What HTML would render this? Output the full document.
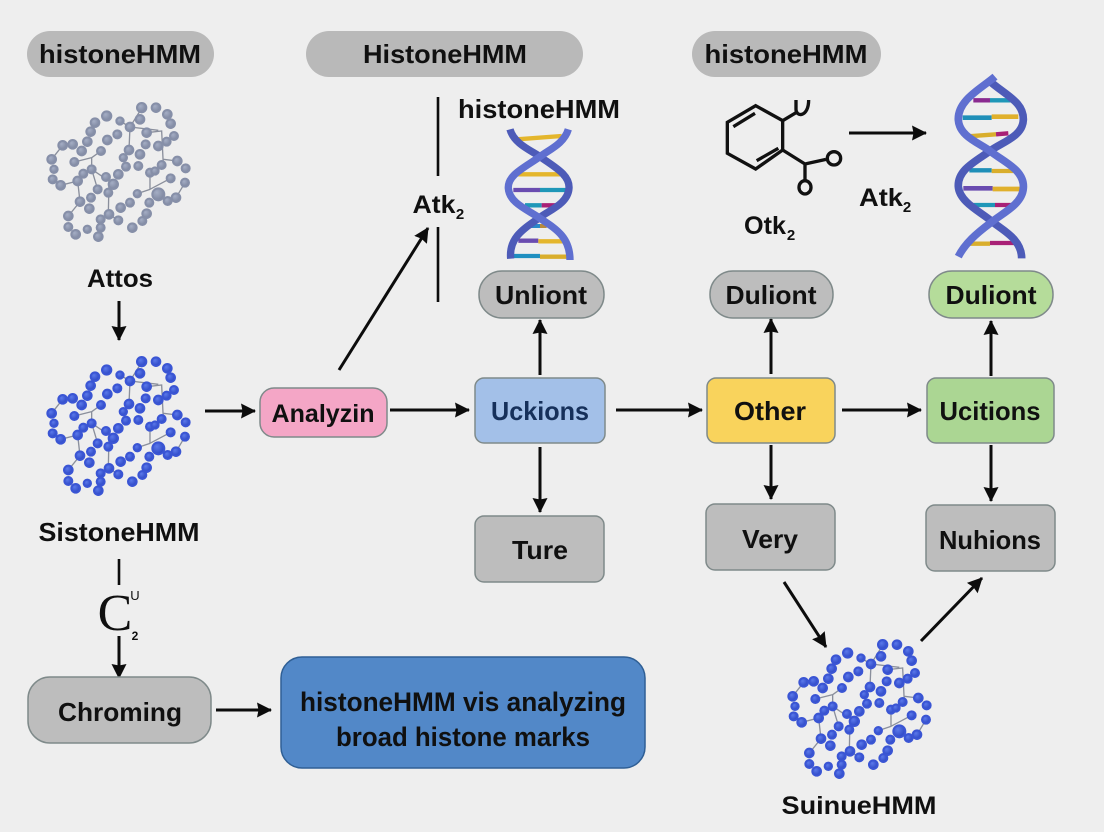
<!DOCTYPE html>
<html><head><meta charset="utf-8"><style>
html,body{margin:0;padding:0;background:#eeeeee}
svg{display:block}
text{font-family:"Liberation Sans",sans-serif;font-weight:700;fill:#101010;text-anchor:middle}
.n{stroke:#7f8a8a;stroke-width:1.5}
.a{stroke:#0c0c0c;stroke-width:3;fill:none}
</style></head><body>
<svg xmlns="http://www.w3.org/2000/svg" width="1104" height="832" viewBox="0 0 1104 832">
<defs>
<radialGradient id="bb" cx=".38" cy=".35" r=".7"><stop offset="0" stop-color="#5a78ea"/><stop offset="1" stop-color="#2a44c2"/></radialGradient>
<radialGradient id="gb" cx=".38" cy=".35" r=".7"><stop offset="0" stop-color="#a4adc4"/><stop offset="1" stop-color="#7c859e"/></radialGradient>
<marker id="h" markerUnits="userSpaceOnUse" markerWidth="18" markerHeight="18" refX="14" refY="8" orient="auto"><path d="M0 0.5L15 8L0 15.5L1.5 8Z" fill="#0c0c0c"/></marker>
<g id="ml" fill="none" stroke="#8a8f9c" stroke-width="4">
<path d="M300 108L385 118M300 108L297 177M350 125L395 120L400 222M400 205L442 210M185 200L133 213M185 200L185 235L203 295M185 200L213 180M185 235L237 270L235 370M143 270L92 283M143 270L150 332L115 375M237 370L265 388M360 245L360 295L422 262M360 295L322 308M465 275L438 320M270 90L300 108M330 60L300 108M98 163L65 205"/>
</g>
<g id="mb">
<g id="beads">
<circle cx="335" cy="50" r="14"/><circle cx="378" cy="50" r="13"/><circle cx="412" cy="70" r="13"/><circle cx="422" cy="98" r="13"/><circle cx="432" cy="135" r="12"/><circle cx="410" cy="152" r="12"/><circle cx="385" cy="165" r="13"/><circle cx="330" cy="85" r="13"/>
<circle cx="230" cy="75" r="14"/><circle cx="195" cy="95" r="13"/><circle cx="182" cy="122" r="13"/><circle cx="172" cy="152" r="13"/><circle cx="155" cy="180" r="13"/><circle cx="128" cy="160" r="13"/><circle cx="98" cy="163" r="13"/><circle cx="65" cy="205" r="13"/><circle cx="72" cy="235" r="11"/><circle cx="68" cy="265" r="12"/><circle cx="92" cy="283" r="13"/><circle cx="143" cy="270" r="13"/><circle cx="160" cy="248" r="12"/><circle cx="185" cy="235" r="12"/>
<circle cx="270" cy="90" r="11"/><circle cx="300" cy="108" r="13"/><circle cx="350" cy="125" r="13"/><circle cx="347" cy="160" r="12"/><circle cx="297" cy="177" r="13"/><circle cx="330" cy="190" r="13"/><circle cx="280" cy="200" r="11"/><circle cx="288" cy="227" r="12"/><circle cx="325" cy="225" r="12"/><circle cx="360" cy="245" r="12"/><circle cx="375" cy="240" r="11"/><circle cx="395" cy="222" r="12"/><circle cx="442" cy="210" r="13"/><circle cx="467" cy="232" r="12"/><circle cx="465" cy="275" r="12"/><circle cx="438" cy="320" r="13"/><circle cx="413" cy="330" r="12"/><circle cx="385" cy="310" r="18"/><circle cx="358" cy="335" r="12"/><circle cx="350" cy="368" r="13"/><circle cx="337" cy="390" r="12"/><circle cx="307" cy="410" r="13"/><circle cx="265" cy="388" r="12"/><circle cx="272" cy="350" r="13"/><circle cx="300" cy="335" r="12"/><circle cx="322" cy="308" r="11"/><circle cx="422" cy="262" r="12"/>
<circle cx="262" cy="130" r="12"/><circle cx="232" cy="147" r="13"/><circle cx="213" cy="180" r="12"/><circle cx="133" cy="213" r="12"/><circle cx="265" cy="250" r="13"/><circle cx="250" cy="280" r="14"/><circle cx="235" cy="305" r="12"/><circle cx="228" cy="258" r="12"/><circle cx="203" cy="295" r="12"/><circle cx="183" cy="320" r="12"/><circle cx="178" cy="353" r="13"/><circle cx="150" cy="332" r="13"/><circle cx="115" cy="375" r="13"/><circle cx="115" cy="408" r="12"/><circle cx="137" cy="430" r="13"/><circle cx="172" cy="415" r="11"/><circle cx="205" cy="437" r="13"/><circle cx="212" cy="410" r="12"/><circle cx="212" cy="385" r="12"/><circle cx="237" cy="370" r="13"/>
</g></g>
</defs>
<rect width="1104" height="832" fill="#eeeeee"/>

<!-- top pills -->
<rect x="27" y="31" width="187" height="46" rx="23" fill="#b9b9b9"/>
<rect x="306" y="31" width="277" height="46" rx="23" fill="#b9b9b9"/>
<rect x="692" y="31" width="189" height="46" rx="23" fill="#b9b9b9"/>
<text x="120" y="63" font-size="26" textLength="162" lengthAdjust="spacingAndGlyphs">histoneHMM</text>
<text x="445" y="63" font-size="26" textLength="164" lengthAdjust="spacingAndGlyphs">HistoneHMM</text>
<text x="786" y="63" font-size="26" textLength="163" lengthAdjust="spacingAndGlyphs">histoneHMM</text>
<text x="539" y="118" font-size="26" textLength="162" lengthAdjust="spacingAndGlyphs">histoneHMM</text>

<!-- molecules -->
<g transform="translate(30,91) scale(.3333)"><use href="#ml"/><use href="#mb" fill="url(#gb)" stroke="#868fa8" stroke-width="6"/></g>
<g transform="translate(30,345) scale(.3333)"><use href="#ml"/><use href="#mb" fill="url(#bb)" stroke="#3a55d4" stroke-width="6"/></g>
<g transform="translate(771,628) scale(.3333)"><use href="#ml"/><use href="#mb" fill="url(#bb)" stroke="#3a55d4" stroke-width="6"/></g>

<!-- DNA 1 -->
<g transform="translate(490,120) scale(.3333)" fill="none" stroke-linecap="butt">
<path d="M82 58L215 48" stroke="#e4b62c" stroke-width="13"/>
<path d="M80 163H210" stroke="#e4b62c" stroke-width="13"/>
<path d="M70 210H150" stroke="#6a4cb0" stroke-width="13"/><path d="M150 210H235" stroke="#1f97b8" stroke-width="13"/>
<path d="M105 256H155" stroke="#1f97b8" stroke-width="13"/><path d="M155 256H215" stroke="#a82076" stroke-width="13"/>
<path d="M110 318H150" stroke="#2a88c8" stroke-width="12"/><path d="M150 318H170" stroke="#b88a3c" stroke-width="12"/>
<path d="M85 362H145" stroke="#6a4cb0" stroke-width="13"/><path d="M145 364H220" stroke="#e4b62c" stroke-width="13"/>
<path d="M70 408H150" stroke="#1f8fc0" stroke-width="13"/><path d="M150 410H232" stroke="#d9ae2c" stroke-width="13"/>
<path d="M60 28C72 72 125 92 150 110C195 142 240 165 237 205C234 250 180 270 150 292C105 325 56 350 62 416" stroke="#4d5bb8" stroke-width="22"/>
<path d="M235 28C222 72 175 90 150 110C105 142 52 165 55 205C58 250 115 270 150 295C195 325 240 350 240 420" stroke="#5f6fd0" stroke-width="22"/>
</g>

<!-- DNA 2 -->
<g transform="translate(940,65) scale(.3333)" fill="none">
<path d="M100 106H150" stroke="#8a2a90" stroke-width="13"/><path d="M150 106H215" stroke="#1f97b8" stroke-width="13"/>
<path d="M68 158H155" stroke="#1f8fb8" stroke-width="14"/><path d="M155 155H235" stroke="#e0b02c" stroke-width="14"/>
<path d="M85 214L168 208" stroke="#d9ae2c" stroke-width="13"/><path d="M168 208L205 205" stroke="#a82076" stroke-width="13"/>
<path d="M88 316H155" stroke="#1f8fb8" stroke-width="13"/><path d="M155 318H220" stroke="#d9ae2c" stroke-width="13"/>
<path d="M70 370H158" stroke="#6a4cb0" stroke-width="14"/><path d="M158 372H240" stroke="#e0b02c" stroke-width="14"/>
<path d="M100 420H165" stroke="#1f97b8" stroke-width="13"/><path d="M165 420H230" stroke="#a82076" stroke-width="13"/>
<path d="M88 536H150" stroke="#d9ae2c" stroke-width="13"/><path d="M150 534H228" stroke="#a82076" stroke-width="13"/>
<path d="M145 45C195 90 252 110 250 165C248 215 185 232 150 258C105 290 52 315 55 365C58 410 120 440 150 465C185 495 245 520 245 580" stroke="#4d5bb8" stroke-width="23"/>
<path d="M165 35C125 70 52 105 55 165C58 215 120 235 150 258C190 290 255 315 250 370C246 420 185 445 150 475C110 505 75 535 55 575" stroke="#5f6fd0" stroke-width="23"/>
</g>

<!-- chem ring -->
<g transform="translate(710,70) scale(.3333)" fill="none" stroke="#111" stroke-width="10">
<path d="M137 107L218 152L218 240L137 297L52 250L52 157Z"/>
<path d="M70 170L135 130M140 272L205 235"/>
<path d="M218 152L258 128"/>
<path d="M258 90V118C258 142 296 142 296 90"/>
<path d="M218 240L285 282L348 268M285 282V330"/>
<circle cx="372" cy="265" r="20"/><ellipse cx="285" cy="352" rx="18" ry="20"/>
</g>

<!-- plain lines -->
<path d="M438 97V176M438 227V302M119 559V585" stroke="#0c0c0c" stroke-width="2.6" fill="none"/>

<!-- arrows -->
<g class="a">
<line x1="119" y1="301" x2="119" y2="340" marker-end="url(#h)"/>
<line x1="205" y1="411" x2="255" y2="411" marker-end="url(#h)"/>
<line x1="390" y1="410" x2="469" y2="410" marker-end="url(#h)"/>
<line x1="339" y1="370" x2="428" y2="228" marker-end="url(#h)"/>
<line x1="540" y1="375" x2="540" y2="320" marker-end="url(#h)"/>
<line x1="540" y1="447" x2="540" y2="512" marker-end="url(#h)"/>
<line x1="616" y1="410" x2="702" y2="410" marker-end="url(#h)"/>
<line x1="771" y1="374" x2="771" y2="319" marker-end="url(#h)"/>
<line x1="771" y1="445" x2="771" y2="499" marker-end="url(#h)"/>
<line x1="842" y1="410" x2="921" y2="410" marker-end="url(#h)"/>
<line x1="991" y1="376" x2="991" y2="321" marker-end="url(#h)"/>
<line x1="991" y1="445" x2="991" y2="501" marker-end="url(#h)"/>
<line x1="784" y1="582" x2="826" y2="647" marker-end="url(#h)"/>
<line x1="921" y1="641" x2="982" y2="578" marker-end="url(#h)"/>
<line x1="119" y1="636" x2="119" y2="678" marker-end="url(#h)"/>
<line x1="216" y1="710" x2="271" y2="710" marker-end="url(#h)"/>
<line x1="849" y1="133" x2="926" y2="133" marker-end="url(#h)"/>
</g>

<!-- nodes -->
<rect class="n" x="260" y="388" width="127" height="49" rx="14" fill="#f4a6c6"/>
<rect class="n" x="475" y="378" width="130" height="65" rx="9" fill="#a3c0e8"/>
<rect class="n" x="707" y="378" width="128" height="65" rx="9" fill="#f9d35c"/>
<rect class="n" x="927" y="378" width="127" height="65" rx="9" fill="#abd693"/>
<rect class="n" x="479" y="271" width="125" height="47" rx="23" fill="#bdbdbd"/>
<rect class="n" x="710" y="271" width="123" height="47" rx="23" fill="#bdbdbd"/>
<rect class="n" x="929" y="271" width="124" height="47" rx="23" fill="#b5dc9a"/>
<rect class="n" x="475" y="516" width="129" height="66" rx="9" fill="#bdbdbd"/>
<rect class="n" x="706" y="504" width="129" height="66" rx="9" fill="#bdbdbd"/>
<rect class="n" x="926" y="505" width="129" height="66" rx="9" fill="#bdbdbd"/>
<rect class="n" x="28" y="677" width="183" height="66" rx="22" fill="#bdbdbd"/>
<rect x="281" y="657" width="364" height="111" rx="21" fill="#5288c8" stroke="#2f5f95" stroke-width="1.5"/>

<!-- node labels -->
<text x="323" y="422" font-size="25" textLength="103" lengthAdjust="spacingAndGlyphs">Analyzin</text>
<text x="540" y="420" font-size="26" textLength="98" lengthAdjust="spacingAndGlyphs" style="fill:#16305a">Uckions</text>
<text x="770" y="420" font-size="26" textLength="72" lengthAdjust="spacingAndGlyphs">Other</text>
<text x="990" y="420" font-size="26" textLength="101" lengthAdjust="spacingAndGlyphs">Ucitions</text>
<text x="541" y="304" font-size="26" textLength="92" lengthAdjust="spacingAndGlyphs">Unliont</text>
<text x="771" y="304" font-size="26" textLength="91" lengthAdjust="spacingAndGlyphs">Duliont</text>
<text x="991" y="304" font-size="26" textLength="91" lengthAdjust="spacingAndGlyphs">Duliont</text>
<text x="540" y="559" font-size="26" textLength="56" lengthAdjust="spacingAndGlyphs">Ture</text>
<text x="770" y="548" font-size="26" textLength="56" lengthAdjust="spacingAndGlyphs">Very</text>
<text x="990" y="549" font-size="26" textLength="102" lengthAdjust="spacingAndGlyphs">Nuhions</text>
<text x="120" y="721" font-size="26" textLength="124" lengthAdjust="spacingAndGlyphs">Chroming</text>
<text x="463" y="711" font-size="27" textLength="326" lengthAdjust="spacingAndGlyphs">histoneHMM vis analyzing</text>
<text x="463" y="746" font-size="27" textLength="254" lengthAdjust="spacingAndGlyphs">broad histone marks</text>

<!-- free labels -->
<text x="120" y="287" font-size="25" textLength="66" lengthAdjust="spacingAndGlyphs">Attos</text>
<text x="119" y="541" font-size="26" textLength="161" lengthAdjust="spacingAndGlyphs">SistoneHMM</text>
<text x="859" y="814" font-size="25" textLength="155" lengthAdjust="spacingAndGlyphs">SuinueHMM</text>
<text x="434" y="213" font-size="25" textLength="43" lengthAdjust="spacingAndGlyphs">Atk</text>
<text x="460" y="219" font-size="15">2</text>
<text x="765" y="234" font-size="25" textLength="42" lengthAdjust="spacingAndGlyphs">Otk</text>
<text x="791" y="240" font-size="15">2</text>
<text x="881" y="206" font-size="25" textLength="44" lengthAdjust="spacingAndGlyphs">Atk</text>
<text x="907" y="212" font-size="15">2</text>
<text x="115" y="630" font-size="52" style="font-family:'Liberation Serif',serif;font-weight:400">C</text>
<text x="135" y="600" font-size="13" style="font-weight:400">U</text>
<text x="135" y="640" font-size="12">2</text>
</svg>
</body></html>
